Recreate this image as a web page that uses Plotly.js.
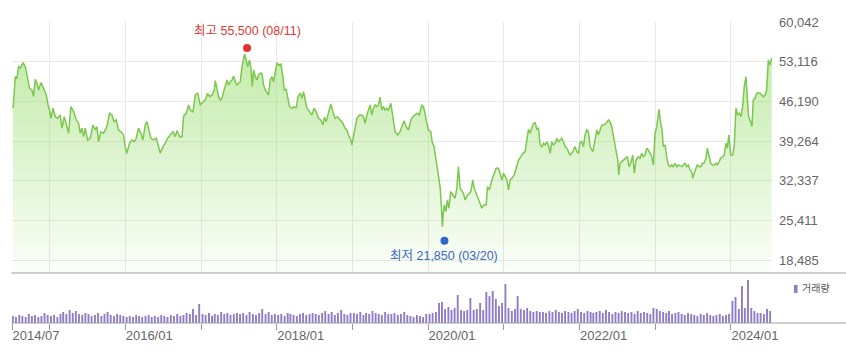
<!DOCTYPE html>
<html>
<head>
<meta charset="utf-8">
<script src="https://cdn.plot.ly/plotly-3.0.1.min.js"></script>
<style>
  html, body { margin: 0; padding: 0; background: #fff; }
  #chart { width: 846px; height: 355px; }
</style>
</head>
<body>
<div id="chart"></div>
<script>
// ---------- DATA ----------
// price line: time (decimal year) and price (KRW)
const priceYears = [
2014.518,2014.548,2014.570,2014.591,2014.614,2014.650,2014.680,2014.710,2014.737,2014.768,2014.789,2014.812,2014.834,2014.855,2014.887,2014.921,2014.957,2014.980,
2015.001,2015.019,2015.046,2015.076,2015.106,2015.142,2015.164,2015.195,2015.230,2015.252,2015.283,2015.318,2015.353,2015.384,2015.406,2015.428,2015.450,2015.472,2015.502,2015.538,2015.574,2015.604,2015.626,2015.648,2015.679,2015.714,2015.758,2015.793,2015.824,2015.855,2015.881,2015.912,2015.943,2015.978,
2016.000,2016.022,2016.057,2016.088,2016.119,2016.145,2016.176,2016.207,2016.234,2016.264,2016.286,2016.308,2016.339,2016.374,2016.409,2016.440,2016.462,2016.498,2016.528,2016.558,2016.594,2016.630,2016.660,2016.682,2016.717,2016.749,2016.770,2016.805,2016.836,2016.858,2016.894,2016.924,2016.954,2016.990,
2017.026,2017.056,2017.086,2017.113,2017.145,2017.175,2017.188,2017.211,2017.232,2017.254,2017.277,2017.298,2017.320,2017.343,2017.364,2017.386,2017.409,2017.430,2017.452,2017.475,2017.496,2017.518,2017.541,2017.562,2017.575,2017.597,2017.615,2017.641,2017.659,2017.677,2017.694,2017.716,2017.739,2017.760,2017.782,2017.805,2017.826,2017.848,2017.871,2017.892,2017.914,2017.937,2017.958,2017.980,
2018.003,2018.024,2018.055,2018.082,2018.099,2018.125,2018.143,2018.169,2018.201,2018.231,2018.257,2018.280,2018.310,2018.333,2018.354,2018.376,2018.399,2018.433,2018.465,2018.495,2018.521,2018.552,2018.583,2018.610,2018.631,2018.653,2018.684,2018.715,2018.742,2018.772,2018.803,2018.838,2018.874,2018.904,2018.927,2018.948,2018.979,2018.993,
2019.014,2019.036,2019.059,2019.093,2019.125,2019.146,2019.168,2019.191,2019.212,2019.234,2019.257,2019.278,2019.300,2019.323,2019.344,2019.366,2019.389,2019.410,2019.432,2019.455,2019.476,2019.508,2019.521,2019.542,2019.564,2019.595,2019.630,2019.653,2019.683,2019.710,2019.740,2019.772,2019.798,2019.828,2019.859,2019.885,2019.917,2019.938,2019.960,2019.983,
2020.004,2020.036,2020.053,2020.079,2020.106,2020.123,2020.141,2020.158,2020.176,2020.189,2020.202,2020.215,2020.234,2020.255,2020.273,2020.300,2020.326,2020.356,2020.379,2020.400,2020.422,2020.445,2020.466,2020.488,2020.519,2020.545,2020.564,2020.590,2020.607,2020.634,2020.664,2020.686,2020.709,2020.730,2020.766,2020.783,2020.809,2020.841,2020.871,2020.898,2020.928,2020.950,2020.973,2020.994,
2021.016,2021.039,2021.060,2021.082,2021.105,2021.135,2021.162,2021.192,2021.224,2021.250,2021.280,2021.303,2021.324,2021.346,2021.369,2021.390,2021.412,2021.435,2021.456,2021.478,2021.501,2021.522,2021.544,2021.567,2021.593,2021.610,2021.633,2021.654,2021.676,2021.699,2021.720,2021.742,2021.765,2021.786,2021.808,2021.831,2021.852,2021.874,2021.897,2021.918,2021.940,2021.963,2021.984,
2022.006,2022.029,2022.050,2022.072,2022.095,2022.116,2022.138,2022.174,2022.204,2022.227,2022.248,2022.270,2022.293,2022.323,2022.350,2022.380,2022.402,2022.425,2022.446,2022.468,2022.491,2022.504,2022.517,2022.534,2022.557,2022.587,2022.614,2022.631,2022.653,2022.676,2022.702,2022.723,2022.746,2022.776,2022.799,2022.821,2022.842,2022.865,2022.887,2022.908,2022.931,2022.953,2022.974,2022.997,
2023.019,2023.049,2023.072,2023.089,2023.106,2023.129,2023.151,2023.172,2023.195,2023.217,2023.238,2023.261,2023.283,2023.304,2023.327,2023.349,2023.370,2023.393,2023.415,2023.436,2023.459,2023.481,2023.494,2023.511,2023.538,2023.555,2023.581,2023.600,2023.626,2023.643,2023.670,2023.687,2023.705,2023.732,2023.758,2023.779,2023.802,2023.819,2023.845,2023.864,2023.890,2023.911,2023.934,2023.951,2023.973,2023.996,
2024.022,2024.043,2024.066,2024.088,2024.109,2024.132,2024.154,2024.175,2024.198,2024.215,2024.233,2024.260,2024.277,2024.294,2024.317,2024.339,2024.360,2024.383,2024.405,2024.426,2024.449,2024.471,2024.492,2024.515,2024.537
];
const prices = [
44980,50490,50270,52240,52010,52940,52240,50490,48470,48170,47000,50040,49340,48170,49450,48470,47300,45550,
44680,43230,44980,43510,43230,43810,41490,43510,41490,40610,45260,44390,42940,42360,40610,41490,40020,41490,39450,39740,42060,41190,41770,39150,40890,40610,41770,44110,43810,42640,42940,41190,40890,40320,
38280,37120,38870,39450,39150,39740,41490,40610,39450,42060,42640,41190,39740,39450,39740,38280,37120,38280,38870,39740,40320,40890,40020,41070,40020,40020,43630,44110,45550,44680,44390,47300,47600,45550,
46130,46430,47600,47000,47300,48170,49800,48470,47000,46430,46720,47880,48750,49920,49050,49620,49920,50620,49620,49050,49340,49620,52240,53990,54460,53410,52240,53410,51960,48750,51660,50490,49920,50790,51090,51090,49050,48170,47600,47300,49920,50490,49620,51370,
52940,52540,52710,50490,48170,48300,46720,45260,44980,45260,44980,47000,47600,46720,47880,46130,44980,44390,43810,44980,44390,43230,42940,42060,43410,42640,44390,45730,44390,43230,43510,42940,42360,41490,41190,40320,39450,38570,
40020,41770,43230,43810,43810,43510,42360,43810,44680,45550,43810,44980,45550,45260,45550,46900,44680,45260,44680,44980,44680,45850,44680,42940,40890,40320,40890,41770,42810,41770,41190,42940,43510,43810,44110,43810,45550,45260,44110,42360,
41190,40890,39150,38280,35950,34210,32170,31290,27800,24310,26930,28100,26930,28970,27520,30420,29840,29270,31010,34790,31010,30420,30140,28970,29840,30140,30420,32460,31010,30140,28970,28400,27520,28100,28100,31290,30720,32460,33630,34510,34510,33340,32460,33630,
33040,32460,30720,32460,32760,33340,34510,35950,36530,37120,37400,39150,41310,40610,41490,42360,42470,41310,41490,38570,38280,38870,38570,39150,38280,37120,39150,38570,38870,39740,39150,39450,39740,39150,38280,38000,37400,36830,37120,37700,38280,37400,37120,
39010,39150,38280,40320,41190,40890,38280,37400,39450,41190,40320,41190,42060,42060,42360,42940,42640,41770,40020,38280,36530,35950,33340,35380,35660,35950,36250,36530,34790,35380,36830,33630,35950,36530,36250,37120,36530,36830,38000,37700,37120,36530,35080,40610,
41770,44800,42360,41190,38280,38570,36530,35080,34780,35080,34780,35380,34780,35080,34910,34780,35080,35380,34780,35080,34210,33910,32760,33630,34510,35080,34780,34780,35380,35380,36250,38000,36830,35380,35080,35080,35380,35080,35660,36250,36530,36830,38870,38000,40320,36830,
36830,38280,44980,43810,44110,43510,45260,48750,50490,47000,43510,42640,41770,46430,46720,47600,47700,47600,47300,47000,47300,48170,53410,52540,53710
];

// trading volume (thousand shares), one bar per half month starting 2014/07
const volStart = { year: 2014, month: 7 };
const volumes = [
350,300,400,350,300,450,350,400,300,350,500,400,
350,400,300,450,550,450,650,500,600,450,400,500,
450,350,400,500,350,450,550,400,350,450,400,350,
300,350,300,400,350,300,350,400,300,350,300,400,
350,300,400,350,450,350,400,500,450,700,400,950,
450,400,500,350,450,400,550,450,500,400,450,500,
450,500,400,550,450,400,500,700,450,550,400,450,
400,450,350,500,450,400,350,450,500,400,450,500,
450,400,500,600,450,550,400,500,650,450,400,500,
500,450,550,400,500,450,600,500,450,400,550,450,
450,500,400,450,550,400,350,300,400,350,300,450,
450,500,550,1000,1050,700,800,650,750,1400,650,600,
650,1250,650,700,1000,650,1550,1350,1600,1200,850,1000,
1950,750,600,700,1350,700,650,750,600,550,600,550,
550,500,600,550,650,550,500,600,550,500,600,700,
550,500,600,550,500,550,600,500,650,550,450,550,
500,600,550,500,550,450,600,500,550,500,450,750,
700,600,550,500,600,450,500,550,450,400,500,450,
400,350,450,400,500,400,350,400,450,350,400,450,
1100,1300,700,1850,750,2150,750,600,500,500,450,700,
600
];

// high / low marks
const highPoint = { date: '2017-08-11', value: 55500, label: '최고 55,500 (08/11)' };
const lowPoint  = { date: '2020-03-20', value: 21850, label: '최저 21,850 (03/20)' };

// axis ticks
const priceTicks = [18485, 25411, 32337, 39264, 46190, 53116, 60042];
const xTickVals  = ['2014-07-04','2015-01-01','2016-01-01','2017-01-01','2018-01-01','2019-01-01','2020-01-01','2021-01-01','2022-01-01','2023-01-01','2024-01-01'];
const xTickText  = ['2014/07','','2016/01','','2018/01','','2020/01','','2022/01','','2024/01'];
const xRange     = ['2014-07-04','2024-07-17'];
const priceRange = [16216, 60042];

// ---------- BUILD ----------
function yearToDate(y) {
  const yr = Math.floor(y);
  const a = Date.UTC(yr, 0, 1), b = Date.UTC(yr + 1, 0, 1);
  return new Date(a + (y - yr) * (b - a)).toISOString().slice(0, 19).replace('T', ' ');
}
const pad = n => (n < 10 ? '0' : '') + n;
const priceDates = priceYears.map(yearToDate);
const volDates = volumes.map((v, i) => {
  const m = (volStart.month - 1) + Math.floor(i / 2);
  const yr = volStart.year + Math.floor(m / 12);
  return yr + '-' + pad((m % 12) + 1) + '-' + (i % 2 ? '23' : '08');
});

const FONT = 'Liberation Sans, Arial, Noto Sans CJK KR, sans-serif';
const KFONT = 'Liberation Sans, Noto Sans CJK KR, sans-serif';

const traces = [
  {
    type: 'bar', x: volDates, y: volumes, xaxis: 'x', yaxis: 'y',
    marker: { color: '#8e7cc5', line: { width: 0 } }, hoverinfo: 'skip'
  },
  {
    type: 'scatter', mode: 'lines', x: priceDates, y: prices, xaxis: 'x2', yaxis: 'y2',
    line: { color: '#7cc84e', width: 1.5 },
    fill: 'tozeroy',
    fillgradient: {
      type: 'vertical', start: 16216, stop: 56000,
      colorscale: [[0, 'rgba(150,220,105,0.04)'], [1, 'rgba(150,220,105,0.58)']]
    },
    hoverinfo: 'skip'
  },
  {
    type: 'scatter', mode: 'markers', x: [highPoint.date], y: [highPoint.value], xaxis: 'x2', yaxis: 'y2',
    marker: { color: '#e5312e', size: 8 }, hoverinfo: 'skip'
  },
  {
    type: 'scatter', mode: 'markers', x: [lowPoint.date], y: [lowPoint.value], xaxis: 'x2', yaxis: 'y2',
    marker: { color: '#2f66cc', size: 8 }, hoverinfo: 'skip'
  }
];

const layout = {
  width: 846, height: 355,
  margin: { l: 12, r: 74, t: 22, b: 32 },
  paper_bgcolor: '#ffffff', plot_bgcolor: 'rgba(0,0,0,0)',
  showlegend: false,
  bargap: 0.3,
  font: { family: FONT, size: 13, color: '#666666' },
  xaxis: {
    type: 'date', range: xRange, anchor: 'y',
    tickvals: xTickVals, ticktext: xTickText,
    ticks: 'outside', ticklen: 6, tickwidth: 1, tickcolor: '#999999',
    ticklabelposition: 'outside right',
    tickfont: { family: FONT, size: 13, color: '#666666' },
    showgrid: false, zeroline: false, showline: false
  },
  yaxis: {
    domain: [0, 0.1495], range: [0, 2250],
    showgrid: false, zeroline: false, showticklabels: false, ticks: '', showline: false
  },
  xaxis2: {
    type: 'date', matches: 'x', anchor: 'y2',
    tickvals: xTickVals, showticklabels: false, ticks: '',
    showgrid: true, gridcolor: '#e8e8e8', gridwidth: 1,
    zeroline: false, showline: false
  },
  yaxis2: {
    domain: [0.1661, 1], range: priceRange, side: 'right', anchor: 'x2',
    tickvals: priceTicks, tickformat: ',d', ticks: '',
    ticklabelstandoff: 6,
    tickfont: { family: FONT, size: 13, color: '#666666' },
    showgrid: true, gridcolor: '#e8e8e8', gridwidth: 1,
    zeroline: false, showline: false
  },
  shapes: [
    { type: 'line', xref: 'paper', yref: 'paper', x0: -0.001, x1: 1.0974, y0: 0.1661, y1: 0.1661,
      line: { color: '#a0a0a0', width: 1.2 } },
    { type: 'line', xref: 'paper', yref: 'paper', x0: -0.001, x1: 1.0974, y0: 0, y1: 0,
      line: { color: '#a0a0a0', width: 1.2 } },
    { type: 'rect', xref: 'paper', yref: 'paper', x0: 1.0289, x1: 1.0336, y0: 0.0997, y1: 0.1262,
      fillcolor: '#8e7cc5', line: { width: 0 } }
  ],
  annotations: [
    { xref: 'x2', yref: 'y2', x: highPoint.date, y: highPoint.value, text: highPoint.label,
      showarrow: false, yshift: 17, xanchor: 'center', yanchor: 'middle',
      font: { family: KFONT, size: 12.5, color: '#e03a36' } },
    { xref: 'x2', yref: 'y2', x: lowPoint.date, y: lowPoint.value, text: lowPoint.label,
      showarrow: false, yshift: -15, xanchor: 'center', yanchor: 'middle',
      font: { family: KFONT, size: 12.5, color: '#3a68c2' } },
    { xref: 'paper', yref: 'paper', x: 1.0368, y: 0.113, text: '거래량',
      showarrow: false, xanchor: 'left', yanchor: 'middle',
      font: { family: KFONT, size: 10, color: '#555555' } }
  ]
};

Plotly.newPlot('chart', traces, layout, { displayModeBar: false, staticPlot: true });
</script>
</body>
</html>
